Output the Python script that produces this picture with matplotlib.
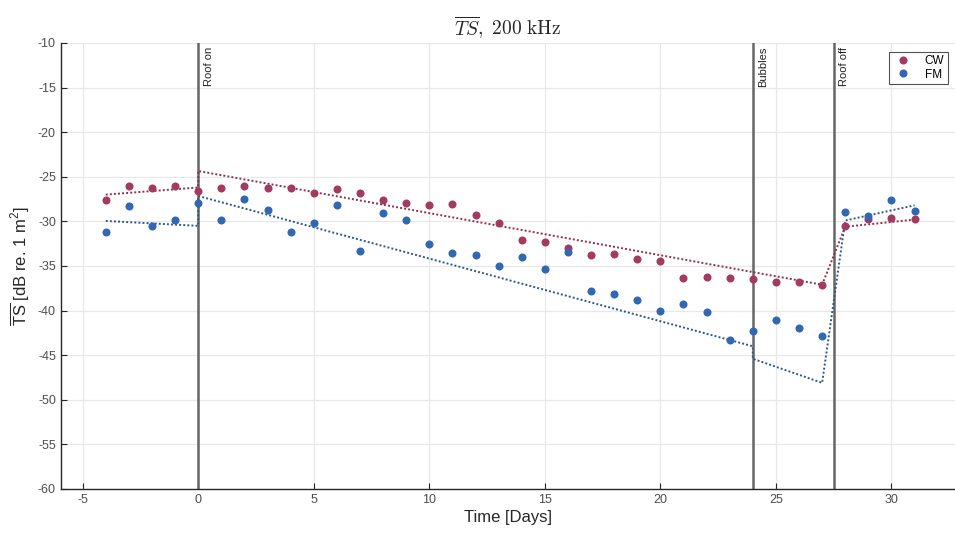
import matplotlib
matplotlib.use("Agg")
import matplotlib.pyplot as plt
import numpy as np

plt.rcParams['font.family'] = ['Liberation Sans', 'DejaVu Sans']
plt.rcParams['mathtext.fontset'] = 'custom'
plt.rcParams['mathtext.rm'] = 'Liberation Sans'
plt.rcParams['mathtext.it'] = 'Liberation Sans:italic'
plt.rcParams['mathtext.bf'] = 'Liberation Sans:bold'
plt.rcParams['axes.unicode_minus'] = False

# Daily mean target strength, days relative to the roof going on
days = np.arange(-4, 32)
cw = [-27.6, -26.0, -26.3, -26.0, -26.6, -26.3, -26.0, -26.3, -26.3, -26.8,
      -26.4, -26.8, -27.6, -27.9, -28.2, -28.1, -29.3, -30.2, -32.1, -32.3,
      -33.0, -33.8, -33.7, -34.2, -34.4, -36.4, -36.2, -36.4, -36.5, -36.8,
      -36.8, -37.1, -30.5, -29.7, -29.6, -29.7]
fm = [-31.2, -28.3, -30.5, -29.9, -27.9, -29.8, -27.5, -28.7, -31.2, -30.2,
      -28.2, -33.3, -29.1, -29.8, -32.5, -33.5, -33.8, -35.0, -34.0, -35.3,
      -33.4, -37.8, -38.1, -38.8, -40.0, -39.3, -40.2, -43.3, -42.3, -41.1,
      -42.0, -42.9, -29.0, -29.4, -27.6, -28.8]

# Piecewise trend lines (period endpoints)
cw_trend_x = [-4, 0, 0, 27, 28, 31]
cw_trend_y = [-27.0, -26.2, -24.35, -37.1, -30.6, -29.8]
fm_trend_x = [-4, 0, 0, 24, 24, 27, 28, 31]
fm_trend_y = [-29.95, -30.5, -27.15, -44.0, -45.4, -48.1, -29.9, -28.2]

# Events
event_days = [0, 24, 27.5]
event_labels = ['Roof on', 'Bubbles', 'Roof off']

cw_color = '#A33A62'
fm_color = '#3268B1'
cw_line = '#8E3050'
fm_line = '#2D5888'

fig = plt.figure(figsize=(9.55, 5.34), dpi=100)
ax = fig.add_axes([0.0636, 0.0843, 0.9364, 0.8352])

ax.grid(True, color='#e8e8e8', linewidth=0.9)
ax.set_axisbelow(True)

for d in event_days:
    ax.axvline(d, color='#666666', linewidth=1.8, zorder=2)
for d, lab in zip(event_days, event_labels):
    ax.text(d + 0.25, -10.45, lab, rotation=90, va='top', ha='left',
            fontsize=8, color='#222222')

dots = (0, (1, 1.1))
ax.plot(cw_trend_x, cw_trend_y, linestyle=dots, color=cw_line, linewidth=1.4,
        zorder=3)
ax.plot(fm_trend_x, fm_trend_y, linestyle=dots, color=fm_line, linewidth=1.4,
        zorder=3)

ax.plot(days, cw, 'o', color=cw_color, markersize=5.8, markeredgewidth=0,
        label='CW', zorder=4)
ax.plot(days, fm, 'o', color=fm_color, markersize=5.8, markeredgewidth=0,
        label='FM', zorder=4)

ax.set_xlim(-5.95, 32.75)
ax.set_ylim(-60, -10)
ax.set_xticks(np.arange(-5, 31, 5))
ax.set_yticks(np.arange(-60, -9, 5))
ax.tick_params(direction='in', length=4, labelsize=9, colors='#262626',
               labelcolor='#4d4d4d')
for s in ['top', 'right']:
    ax.spines[s].set_visible(False)
for s in ['left', 'bottom']:
    ax.spines[s].set_color('#262626')
    ax.spines[s].set_linewidth(1.0)

ax.set_xlabel('Time [Days]', fontsize=12, color='#262626', labelpad=3)
ax.set_ylabel(r'$\overline{\mathrm{TS}}$ [dB re. 1 m$^2$]', fontsize=12,
              color='#262626', labelpad=4)
ax.set_title(r'$\overline{TS},\ \mathrm{200\ kHz}$', fontsize=14,
             math_fontfamily='cm', color='#262626', pad=6)

leg = ax.legend(loc='upper right', bbox_to_anchor=(0.992, 0.98),
                borderaxespad=0, fontsize=8.5,
                frameon=True, fancybox=False, edgecolor='#262626',
                handletextpad=0.9, borderpad=0.3, labelspacing=0.1,
                handlelength=1.8, markerscale=1.0)
leg.get_frame().set_linewidth(0.8)

fig.savefig('out.png', dpi=100)
